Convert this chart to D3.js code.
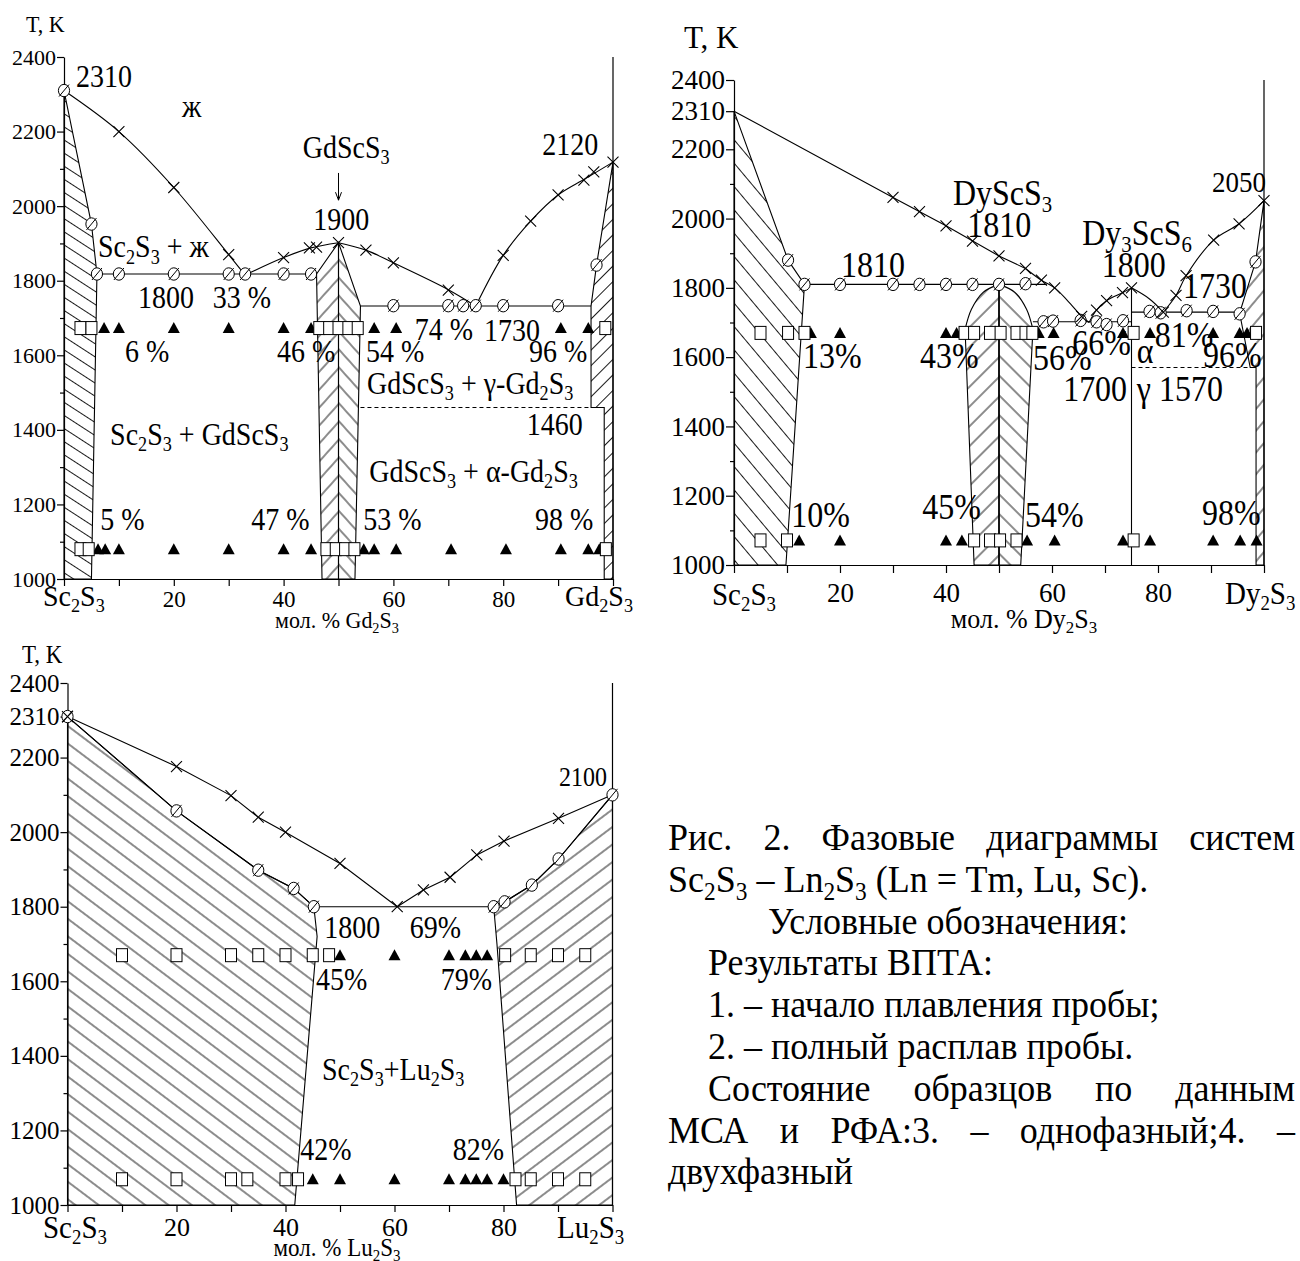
<!DOCTYPE html>
<html>
<head>
<meta charset="utf-8">
<script src="https://cdn.jsdelivr.net/npm/d3@7"></script>
<style>
  body { margin: 0; background: #fff; }
  svg { display: block; }
  text { font-family: "Liberation Serif", "Times New Roman", serif; fill: #000; white-space: pre; }
</style>
</head>
<body>
<script>
// ---------- Sc2S3 - Gd2S3 (top left) ----------
var gdLiqLeft  = [[0,2310],[10,2200],[20,2050],[30,1870],[33,1815]];
var gdLiqMidL  = [[33,1815],[40,1862],[45,1888],[50,1902]];
var gdLiqMidR  = [[50,1902],[55,1882],[60,1848],[70,1776],[75,1732]];
var gdLiqRight = [[75,1732],[80,1868],[85,1960],[90,2030],[95,2074],[100,2118]];
var gdCross  = [[10,2200],[20,2050],[30,1870],[40,1862],[44.7,1888],[46,1890],[50,1902],[55,1882],[60,1848],[70,1775],
                [80,1868],[85,1960],[90,2030],[94.7,2070],[96.5,2092],[100,2118]];
var gdCircle = [[0,2310],[5,1952],[6,1818],[10,1818],[20,1818],[30,1818],[33,1818],[40,1818],[45,1818],
                [60,1733],[70,1733],[72.7,1733],[75,1733],[80,1733],[90,1733],[97,1842]];
var gdScField  = [[0,2310],[5,1952],[6,1818],[5,1000],[0,1000]];
var gdBandL    = [[46,1818],[50,1902],[50,1000],[47,1000]];
var gdBandR    = [[50,1902],[54,1732],[53,1000],[50,1000]];
var gdGdField  = [[100,2118],[97,1842],[96,1732],[96,1460],[98.4,1460],[98.4,1000],[100,1000]];
var gdSolid    = [[[6,1818],[46,1818]], [[54,1732],[96,1732]]];
var gdDashed   = [[54,1460],[98.4,1460]];
var gdArrow    = [[50,2089],[50,2016]];
var gdRowT     = [1673, 1080];
var gdTriTop   = [7.3,10,20,30,40,45,56.5,60.5,90.5,95.5];
var gdSqTop    = [3,5,46.5,48.3,50,51.8,53.5,98.6];
var gdTriLow   = [6.2,7.5,10,20,30,40,45,54.6,56.5,60.5,70.5,80.5,90.5,95.5,97.5];
var gdSqLow    = [3,4.5,47.8,49.5,51.2,52.9,98.7];
var gdLabels = [
  ["2310",2.2,2319],["ж",21.5,2239],["GdScS_3",43.5,2129],["1900",45.4,1936],["2120",87.1,2137],
  ["Sc_2S_3 + ж",6.2,1863],["1800",13.5,1727],["33 %",27.1,1727],["74 %",63.9,1641],["1730",76.5,1638],
  ["6 %",11.1,1582],["46 %",38.8,1582],["54 %",55,1582],["96 %",84.7,1582],
  ["GdScS_3 + γ-Gd_2S_3",55.2,1496],["1460",84.3,1386],["Sc_2S_3 + GdScS_3",8.4,1359],
  ["GdScS_3 + α-Gd_2S_3",55.6,1260],["5 %",6.6,1131],["47 %",34.1,1131],["53 %",54.5,1131],["98 %",85.8,1131]
];

// ---------- Sc2S3 - Dy2S3 (top right) ----------
var dyLiqLeft  = [[0,2310],[30,2061],[40,1979],[50,1892],[55,1856]];
var dyLiqEut   = [[55,1856],[58,1822],[60.5,1800],[63,1762],[65.6,1718],[67,1700]];
var dyDy3Left  = [[67,1700],[68.4,1736],[70.3,1763],[73.3,1786],[75,1800]];
var dyDy3Right = [[75,1800],[78.4,1768],[81,1730]];
var dyLiqRight = [[81,1730],[83.4,1778],[85.3,1835],[90.5,1938],[95.3,1985],[100,2052]];
var dyCross  = [[30,2061],[35,2020],[40,1979],[45,1935],[50,1892],[55,1856],[58,1822],[60.5,1800],[65.6,1718],
                [68.4,1736],[70.3,1763],[73.3,1786],[75,1800],[81,1730],[83.4,1778],[85.3,1835],[90.5,1938],[95.3,1985],[100,2052]];
var dyCircle = [[10.2,1880],[13.3,1810],[20,1810],[30,1810],[35,1810],[40,1810],[45,1810],[50,1810],[55,1812],
                [58.4,1702],[60.2,1704],[65.4,1706],[68.4,1702],[70.3,1694],[73.4,1705],
                [78.4,1732],[80.5,1728],[85.4,1734],[90.4,1732],[95.4,1725],[98.4,1875]];
var dyScField  = [[0,2310],[10.2,1880],[13.3,1810],[9.8,1000],[0,1000]];
var dyArcL     = [[50,1810],[47,1787],[44.8,1738],[43.6,1680]];
var dyArcR     = [[50,1810],[53,1787],[55.2,1738],[56.4,1680]];
var dyBandLEnd = [[45.3,1000],[50,1000]];
var dyBandREnd = [[54.1,1000],[50,1000]];
var dyDyField  = [[100,2052],[98.4,1875],[95.4,1727],[97.4,1570],[98.5,1570],[98.5,1000],[100,1000]];
var dySolid    = [[[13.3,1810],[59,1810]], [[56.4,1702],[75,1702]], [[75,1730],[95.4,1730]], [[75,1800],[75,1000]], [[50,1810],[50,1000]]];
var dyDashed   = [[75,1570],[97.4,1570]];
var dyRowT     = [1670, 1071];
var dyTriTop   = [14.5,20,40,42,57.5,60.3,73.4,78.5,90.4,95.4,96.8];
var dySqTop    = [5,10.2,13.3,43.5,45.3,48.3,50.3,53.3,55,56.3,75.4,98.5];
var dyTriLow   = [12.3,20,40,43,55.3,60.5,73.4,78.5,90.4,95.5,98.6];
var dySqLow    = [5,10,45.3,48.3,50.2,53.3,75.4];
var dyLabels = [
  ["DyScS_3",41.3,2039],["1810",44,1947],["1810",20.2,1831],["Dy_3ScS_6",65.7,1924],["1800",69.4,1830],
  ["1730",84.7,1771],["2050",90.2,2077],["56%",56.4,1563],["66%",63.8,1606],["81%",79.4,1629],["α",76,1583],
  ["96%",88.5,1571],["1700",62.1,1473],["γ 1570",76,1473],["13%",13,1569],["43%",35.1,1569],
  ["10%",10.8,1110],["45%",35.5,1133],["54%",54.9,1110],["98%",88.3,1115]
];
var dySmall = ["2050"];

// ---------- Sc2S3 - Lu2S3 (bottom left) ----------
var luLiqLeft  = [[0,2310],[20,2176],[30,2098],[35,2040],[40,2000],[50,1916],[60.5,1800]];
var luLiqRight = [[60.5,1800],[65.3,1845],[70.2,1879],[75.1,1939],[80.1,1976],[90.1,2037],[100,2100]];
var luSolLeft  = [[0,2310],[20,2057],[35,1898],[41.5,1849],[45.2,1800]];
var luSolRight = [[78.2,1800],[80.2,1813],[85.2,1858],[90.1,1928],[100,2100]];
var luCross  = [[0,2310],[20,2176],[30,2098],[35,2040],[40,2000],[50,1916],[60.5,1800],
                [65.3,1845],[70.2,1879],[75.1,1939],[80.1,1976],[90.1,2037]];
var luCircle = [[0,2310],[20,2057],[35,1898],[41.5,1849],[45.2,1800],[78.2,1800],[80.2,1813],[85.2,1858],[90.1,1928],[100,2100]];
var luScField  = [[0,2310],[20,2057],[35,1898],[41.5,1849],[45.2,1800],[45.8,1720],[41.7,1000],[0,1000]];
var luLuField  = [[78.2,1800],[80.2,1813],[85.2,1858],[90.1,1928],[100,2100],[100,1000],[82.4,1000],[78.8,1700]];
var luSolid    = [[[45.2,1800],[78.2,1800]]];
var luRowT     = [1670, 1069];
var luTriTop   = [50,60,70,73,75,77];
var luSqTop    = [10,20,30,35,40,45,48,80.3,85,90,95];
var luTriLow   = [45,50,60,70,73,75,77,80];
var luSqLow    = [10,20,30,33,40,42.3,82.2,85,90,95];
var luLabels = [
  ["2100",90.2,2124],["1800",47.1,1716],["69%",62.8,1716],["45%",45.6,1576],["79%",68.5,1576],
  ["Sc_2S_3+Lu_2S_3",46.7,1335],["42%",42.7,1120],["82%",70.7,1120]
];
var luSmall = ["2100"];

// ---------- caption ----------
var captionLines = [
  "Рис. 2. Фазовые диаграммы систем",
  "Sc_2S_3 – Ln_2S_3 (Ln = Tm, Lu, Sc).",
  "Условные обозначения:",
  "Результаты ВПТА:",
  "1. – начало плавления пробы;",
  "2. – полный расплав пробы.",
  "Состояние образцов по данным",
  "МСА и РФА:3. – однофазный;4. –",
  "двухфазный"
];

var yMajor  = [1000,1200,1400,1600,1800,2000,2200,2400];
var yMajorB = [1000,1200,1400,1600,1800,2000,2200,2310,2400];
var yMinor  = [1100,1300,1500,1700,1900,2100,2300];
var yMinorB = [1100,1300,1500,1700,1900,2100];

var SERIF = '"Liberation Serif", "Times New Roman", serif';
var W = 1300, H = 1261;
var svg = d3.select("body").append("svg").attr("width", W).attr("height", H)
  .attr("font-family", SERIF);
var defs = svg.append("defs");

// angle: rotation of vertical stripes; negative -> "\" , positive -> "/"
function hatch(id, angle, gap) {
  defs.append("pattern").attr("id", id).attr("patternUnits", "userSpaceOnUse")
    .attr("width", gap).attr("height", gap).attr("patternTransform", "rotate(" + angle + ")")
    .append("line").attr("x1", gap / 2).attr("y1", 0).attr("x2", gap / 2).attr("y2", gap)
    .attr("stroke", "#000").attr("stroke-width", 0.9);
}
hatch("hA1", -57, 11); hatch("hA2", 45, 11); hatch("hAL", 42, 12); hatch("hAR", -42, 12);
hatch("hB1", -40, 15); hatch("hB2", 40, 14); hatch("hBL", 45, 14); hatch("hBR", -45, 14);
hatch("hC1", -53, 14); hatch("hC2", 53, 14);

// text with "_x" subscripts
function addText(g, x, y, str, size, anchor, sy) {
  var t = g.append("text").attr("font-size", size).attr("text-anchor", anchor || "start")
    .attr("transform", "translate(" + x + "," + y + ") scale(1," + (sy || 1) + ")");
  var segs = [], buf = "";
  for (var i = 0; i < str.length; i++) {
    if (str[i] === "_") { if (buf) segs.push([buf, false]); buf = ""; segs.push([str[i + 1], true]); i++; }
    else buf += str[i];
  }
  if (buf) segs.push([buf, false]);
  var down = false;
  segs.forEach(function (s) {
    var ts = t.append("tspan").text(s[0]);
    if (s[1]) { ts.attr("font-size", size * 0.65); if (!down) { ts.attr("dy", size * 0.2); down = true; } }
    else if (down) { ts.attr("dy", -size * 0.2); down = false; }
  });
  return t;
}

function drawPanel(o) {
  var g = svg.append("g");
  var x = d3.scaleLinear().domain([0, 100]).range([o.x0, o.x1]);
  var y = d3.scaleLinear().domain([1000, 2400]).range([o.yBot, o.yTop]);
  var line = d3.line().x(function (d) { return x(d[0]); }).y(function (d) { return y(d[1]); });
  var curve = d3.line().x(function (d) { return x(d[0]); }).y(function (d) { return y(d[1]); }).curve(d3.curveCatmullRom.alpha(0.5));

  // hatched fields
  o.fields.forEach(function (f) {
    var d = f.arc ? curve(f.arc) + f.rest.map(function (p) { return "L" + x(p[0]) + "," + y(p[1]); }).join("") + "Z"
                  : line(f.pts) + "Z";
    g.append("path").attr("d", d).attr("fill", "url(#" + f.pat + ")").attr("stroke", "#000").attr("stroke-width", 1.1);
  });

  // axes
  var gy = g.append("g").attr("transform", "translate(" + o.x0 + ",0)")
    .call(d3.axisLeft(y).tickValues(o.yMajor).tickSize(o.tick).tickSizeOuter(0).tickPadding(1).tickFormat(d3.format("d")));
  gy.attr("font-family", SERIF).attr("font-size", o.yFont);
  g.append("g").attr("transform", "translate(" + o.x0 + ",0)")
    .call(d3.axisLeft(y).tickValues(o.yMinor).tickSize(4).tickSizeOuter(0).tickFormat(""))
    .select(".domain").remove();
  var gx = g.append("g").attr("transform", "translate(0," + o.yBot + ")")
    .call(d3.axisBottom(x).tickValues(d3.range(0, 101, 10)).tickSize(o.tick).tickSizeOuter(0).tickPadding(o.xPad)
      .tickFormat(function (d) { return (d % 20 === 0 && d > 0 && d < 100) ? d : ""; }));
  gx.attr("font-family", SERIF).attr("font-size", o.xFont);
  g.selectAll(".domain, .tick line").attr("stroke-width", 1.2);
  g.append("line").attr("x1", o.x1).attr("x2", o.x1).attr("y1", o.yTop).attr("y2", o.yBot)
    .attr("stroke", "#000").attr("stroke-width", 1.2);

  // curves and tie lines
  o.curves.forEach(function (c) {
    g.append("path").attr("d", curve(c)).attr("fill", "none").attr("stroke", "#000").attr("stroke-width", 1.1);
  });
  o.straight.forEach(function (c) {
    g.append("path").attr("d", line(c)).attr("fill", "none").attr("stroke", "#000").attr("stroke-width", 1.1);
  });
  (o.dashed || []).forEach(function (c) {
    g.append("path").attr("d", line(c)).attr("fill", "none").attr("stroke", "#000").attr("stroke-width", 1.1)
      .attr("stroke-dasharray", "4,3");
  });
  if (o.arrow) {
    var ax = x(o.arrow[0][0]), ay0 = y(o.arrow[0][1]), ay1 = y(o.arrow[1][1]);
    g.append("path").attr("d", "M" + ax + "," + ay0 + "V" + ay1 + "M" + (ax - 3) + "," + (ay1 - 8) + "L" + ax + "," + ay1 + "L" + (ax + 3) + "," + (ay1 - 8))
      .attr("fill", "none").attr("stroke", "#000").attr("stroke-width", 1);
  }

  // sample markers (rows)
  function triangles(xs, T) {
    g.selectAll(null).data(xs).join("path")
      .attr("d", function (d) { var cx = x(d), cy = y(T); return "M" + cx + "," + (cy - 6) + "L" + (cx + 6) + "," + (cy + 5) + "L" + (cx - 6) + "," + (cy + 5) + "Z"; })
      .attr("fill", "#000");
  }
  function squares(xs, T) {
    g.selectAll(null).data(xs).join("rect")
      .attr("x", function (d) { return x(d) - 5.5; }).attr("y", y(T) - 6.5)
      .attr("width", 11).attr("height", 13).attr("fill", "#fff").attr("stroke", "#000").attr("stroke-width", 1);
  }
  triangles(o.triTop, o.rowT[0]); triangles(o.triLow, o.rowT[1]);
  squares(o.sqTop, o.rowT[0]); squares(o.sqLow, o.rowT[1]);

  // thermal analysis points
  var cg = g.selectAll(null).data(o.circles).join("g")
    .attr("transform", function (d) { return "translate(" + x(d[0]) + "," + y(d[1]) + ")"; });
  cg.append("ellipse").attr("rx", 5.6).attr("ry", 6.2).attr("fill", "#fff").attr("stroke", "#000").attr("stroke-width", 1);
  cg.append("path").attr("d", "M-5,6L5,-6").attr("stroke", "#000").attr("stroke-width", 1);
  g.selectAll(null).data(o.crosses).join("path")
    .attr("d", function (d) { var cx = x(d[0]), cy = y(d[1]), r = 5.5; return "M" + (cx - r) + "," + (cy - r) + "L" + (cx + r) + "," + (cy + r) + "M" + (cx - r) + "," + (cy + r) + "L" + (cx + r) + "," + (cy - r); })
    .attr("fill", "none").attr("stroke", "#000").attr("stroke-width", 1.1);

  // annotations
  o.labels.forEach(function (l) {
    var size = o.small.indexOf(l[0]) >= 0 ? o.smallFont : o.labFont;
    addText(g, x(l[1]), y(l[2]), l[0], size, "start", 1.12);
  });

  // axis names
  addText(g, o.tk[0], o.tk[1], "T, K", o.tk[2], "start", 1.05);
  addText(g, o.left[0], o.left[1], "Sc_2S_3", o.nameFont, "start", 1.08);
  addText(g, o.right[0], o.right[1], o.rightName, o.nameFont, "start", 1.08);
  addText(g, o.title[0], o.title[1], o.titleText, o.title[2], "middle", 1.05);
}

drawPanel({
  x0: 64, x1: 613, yTop: 57, yBot: 579, tick: 7, yFont: 22, xFont: 23, xPad: 5,
  yMajor: yMajor, yMinor: yMinor,
  fields: [{ pts: gdScField, pat: "hA1" }, { pts: gdGdField, pat: "hA2" }, { pts: gdBandL, pat: "hAL" }, { pts: gdBandR, pat: "hAR" }],
  curves: [gdLiqLeft, gdLiqMidL, gdLiqMidR, gdLiqRight],
  straight: gdSolid, dashed: [gdDashed], arrow: gdArrow,
  rowT: gdRowT, triTop: gdTriTop, sqTop: gdSqTop, triLow: gdTriLow, sqLow: gdSqLow,
  circles: gdCircle, crosses: gdCross,
  labels: gdLabels, small: [], labFont: 28, smallFont: 28,
  tk: [26, 32, 22], left: [43, 606], right: [565, 606], rightName: "Gd_2S_3", nameFont: 28,
  title: [337, 628, 22], titleText: "мол. % Gd_2S_3"
});

drawPanel({
  x0: 734, x1: 1264, yTop: 80, yBot: 565, tick: 8, yFont: 27, xFont: 27, xPad: 10,
  yMajor: yMajorB, yMinor: yMinorB,
  fields: [{ pts: dyScField, pat: "hB1" }, { pts: dyDyField, pat: "hB2" },
           { arc: dyArcL, rest: dyBandLEnd, pat: "hBL" }, { arc: dyArcR, rest: dyBandREnd, pat: "hBR" }],
  curves: [dyLiqEut, dyDy3Left, dyDy3Right, dyLiqRight],
  straight: [dyLiqLeft].concat(dySolid), dashed: [dyDashed],
  rowT: dyRowT, triTop: dyTriTop, sqTop: dySqTop, triLow: dyTriLow, sqLow: dySqLow,
  circles: dyCircle, crosses: dyCross,
  labels: dyLabels, small: dySmall, labFont: 32, smallFont: 27,
  tk: [684, 48, 31], left: [712, 605], right: [1225, 604], rightName: "Dy_2S_3", nameFont: 29,
  title: [1024, 628, 26], titleText: "мол. % Dy_2S_3"
});

drawPanel({
  x0: 67.5, x1: 612.5, yTop: 683, yBot: 1205, tick: 7, yFont: 25, xFont: 26, xPad: 6,
  yMajor: yMajorB, yMinor: yMinorB,
  fields: [{ pts: luScField, pat: "hC1" }, { pts: luLuField, pat: "hC2" }],
  curves: [],
  straight: [luLiqLeft, luLiqRight, luSolLeft, luSolRight].concat(luSolid),
  rowT: luRowT, triTop: luTriTop, sqTop: luSqTop, triLow: luTriLow, sqLow: luSqLow,
  circles: luCircle, crosses: luCross,
  labels: luLabels, small: luSmall, labFont: 28, smallFont: 24,
  tk: [22, 663, 23], left: [43, 1238], right: [557, 1238], rightName: "Lu_2S_3", nameFont: 29,
  title: [337, 1256, 23], titleText: "мол. % Lu_2S_3"
});

// caption block on the right
(function () {
  var g = svg.append("g");
  var left = 668, right = 1295, base = 850, step = 41.8, size = 36, sy = 1.08;
  var indent = [0, 0, 100, 40, 40, 40, 40, 0, 0];
  var justify = [true, false, false, false, false, false, true, true, false];
  captionLines.forEach(function (s, i) {
    var yy = base + i * step, x0 = left + indent[i];
    if (!justify[i]) { addText(g, x0, yy, s, size, "start", sy); return; }
    var words = s.split(" ");
    var nodes = words.map(function (w) { return addText(g, x0, yy, w, size, "start", sy); });
    var widths = nodes.map(function (n) { return n.node().getComputedTextLength(); });
    var gap = (right - x0 - d3.sum(widths)) / (words.length - 1);
    var cx = x0;
    nodes.forEach(function (n, k) {
      n.attr("transform", "translate(" + cx + "," + yy + ") scale(1," + sy + ")");
      cx += widths[k] + gap;
    });
  });
})();
</script>
</body>
</html>
